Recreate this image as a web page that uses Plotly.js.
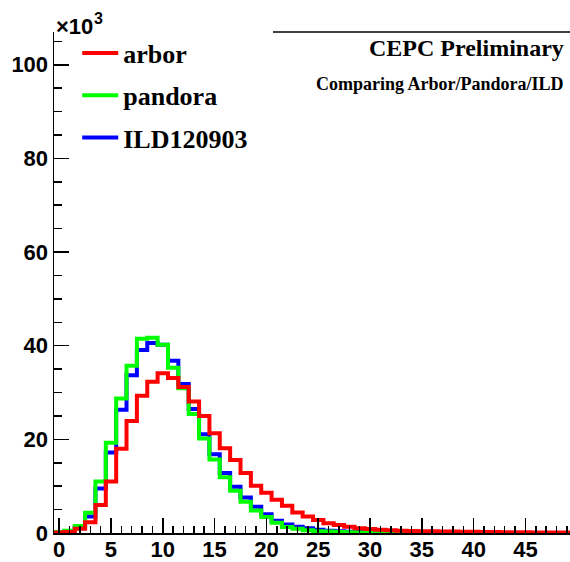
<!DOCTYPE html>
<html>
<head>
<meta charset="utf-8">
<script src="https://cdn.plot.ly/plotly-3.0.1.min.js"></script>
<style>
  html, body { margin: 0; padding: 0; background: #fff; overflow: hidden; }
  #chart { width: 570px; height: 562px; }
</style>
</head>
<body>
<div id="chart"></div>
<script>
// Bin centres (unit-width bins) and entries per bin for each reconstruction
const binCenters = [0,1,2,3,4,5,6,7,8,9,10,11,12,13,14,15,16,17,18,19,
                    20,21,22,23,24,25,26,27,28,29,30,31,32,33,34,35,36,37,38,39,
                    40,41,42,43,44,45,46,47,48,49];

const arbor = [100,200,900,2300,6000,11000,18000,23900,29300,32300,
               34100,33100,31200,28100,25000,21300,18100,15600,12800,10100,
               8600,7100,5800,4400,3500,2800,2100,1700,1350,1000,
               850,700,600,500,450,400,350,300,300,250,
               250,200,200,180,150,150,120,100,100,100];

const pandora = [200,500,1500,4300,11000,19300,28700,35700,41500,41700,
                 40200,35300,30900,25400,20200,15700,11900,9000,6700,4800,
                 3400,2200,1300,900,600,400,300,200,150,100,
                 80,60,50,40,30,30,20,20,20,10,
                 10,10,10,10,10,10,10,10,10,10];

const ild = [150,400,1200,3500,9500,17200,26300,33700,39100,40600,
             40200,36800,31800,26500,21100,16800,12800,9900,7600,5600,
             4000,2600,1800,1350,1000,700,500,350,250,200,
             150,120,100,80,60,50,40,30,30,20,
             20,20,10,10,10,10,10,10,10,10];

const yTickVals = [0, 20000, 40000, 60000, 80000, 100000];
const yTickText = ['0', '20', '40', '60', '80', '100'];

// Turn per-bin contents into a ROOT-like outline: left bin edges plus the final edge
function stepTrace(values, name, color, rank) {
  const half = 0.5;
  const xs = binCenters.map(c => c - half);
  xs.push(binCenters[binCenters.length - 1] + half);
  const ys = values.slice();
  ys.push(values[values.length - 1]);
  return {
    type: 'scatter', mode: 'lines', name: name, legendgroup: name, legendrank: rank,
    x: xs, y: ys,
    line: { shape: 'hv', color: color, width: 4 },
    hoverinfo: 'skip'
  };
}

// Drawn blue, green, red so that arbor sits on top; legend lists arbor first
const traces = [
  stepTrace(ild, 'ILD120903', '#0000ff', 3),
  stepTrace(pandora, 'pandora', '#00ff00', 2),
  stepTrace(arbor, 'arbor', '#ff0000', 1)
];

const serifBold = { family: 'Liberation Serif, Times New Roman, serif', weight: 'bold', color: '#000' };
const sansBold = { family: 'Liberation Sans, Arial, Helvetica, sans-serif', weight: 'bold', color: '#000', size: 22 };

const layout = {
  width: 570, height: 562,
  margin: { l: 54, r: 0, t: 32, b: 29 },
  paper_bgcolor: '#fff', plot_bgcolor: '#fff',
  showlegend: true,
  legend: {
    x: 0.045, y: 1.005, xanchor: 'left', yanchor: 'top',
    traceorder: 'grouped', tracegroupgap: 5.5, itemwidth: 36,
    bgcolor: 'rgba(0,0,0,0)', borderwidth: 0,
    font: Object.assign({ size: 26 }, serifBold)
  },
  xaxis: {
    range: [-0.5, 49.3], showgrid: false, zeroline: false,
    showline: true, linecolor: '#000', linewidth: 2,
    ticks: 'inside', ticklen: 15, tickwidth: 1.5, tickcolor: '#000',
    tick0: 0, dtick: 5, ticklabelstandoff: -4,
    minor: { tick0: 0, dtick: 1, ticks: 'inside', ticklen: 7, tickwidth: 1.5, tickcolor: '#000' },
    tickfont: sansBold
  },
  yaxis: {
    range: [0, 107000], showgrid: false, zeroline: false,
    showline: true, linecolor: '#000', linewidth: 1.5,
    ticks: 'inside', ticklen: 15, tickwidth: 1.5, tickcolor: '#000',
    tickmode: 'array', tickvals: yTickVals, ticktext: yTickText,
    minor: { tick0: 0, dtick: 5000, ticks: 'inside', ticklen: 8, tickwidth: 1.5, tickcolor: '#000' },
    tickfont: sansBold
  },
  shapes: [
    { type: 'line', xref: 'paper', yref: 'paper', x0: 0.4244, x1: 1, y0: 1, y1: 1,
      line: { color: '#000', width: 1.5 } }
  ],
  annotations: [
    { text: '×10', xref: 'paper', yref: 'paper', x: 0, y: 1.0116,
      xanchor: 'left', yanchor: 'middle', showarrow: false,
      font: { family: 'Liberation Sans, Arial, sans-serif', weight: 'bold', size: 22, color: '#000' } },
    { text: '3', xref: 'paper', yref: 'paper', x: 0.0736, y: 1.0273,
      xanchor: 'left', yanchor: 'middle', showarrow: false,
      font: { family: 'Liberation Sans, Arial, sans-serif', weight: 'bold', size: 16, color: '#000' } },
    { text: 'CEPC Preliminary', xref: 'paper', yref: 'paper', x: 0.9925, y: 0.968,
      xanchor: 'right', yanchor: 'middle', showarrow: false,
      font: Object.assign({ size: 24 }, serifBold) },
    { text: 'Comparing Arbor/Pandora/ILD', xref: 'paper', yref: 'paper', x: 0.9925, y: 0.896,
      xanchor: 'right', yanchor: 'middle', showarrow: false,
      font: Object.assign({ size: 18 }, serifBold) }
  ]
};

Plotly.newPlot('chart', traces, layout, { displayModeBar: false, staticPlot: true });
</script>
</body>
</html>
